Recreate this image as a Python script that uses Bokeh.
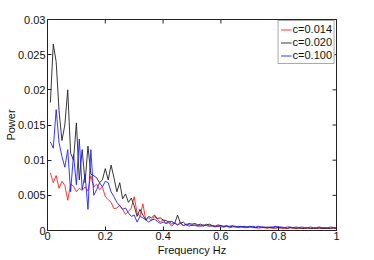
import math
from bokeh.plotting import figure
from bokeh.models import Range1d, FixedTicker, Legend, LegendItem
from bokeh.embed import file_html
from bokeh.resources import INLINE

# ---- data ----
freq = [round(0.01 * i, 2) for i in range(1, 101)]

power_c014 = [
    0.0082, 0.0068, 0.0078, 0.0060, 0.0070, 0.0064, 0.0043, 0.0066, 0.0063, 0.0055,
    0.0060, 0.0057, 0.0062, 0.0056, 0.0078, 0.0062, 0.0066, 0.0058, 0.0062, 0.0048,
    0.0044, 0.0040, 0.0031, 0.0032, 0.0036, 0.0030, 0.0023, 0.0027, 0.0032, 0.0048,
    0.0025, 0.0020, 0.0038, 0.0015, 0.0018, 0.0014, 0.0020, 0.0016, 0.0012, 0.0015,
    0.0010, 0.0011, 0.0006, 0.0010, 0.0008, 0.0012, 0.0007, 0.0008, 0.0006, 0.0008,
    0.0007, 0.0006, 0.0007, 0.0006, 0.0009, 0.0007, 0.0006, 0.0005, 0.0006, 0.0005,
    0.0005, 0.0006, 0.0004, 0.0005, 0.0005, 0.0004, 0.0005, 0.0004, 0.0004, 0.0005,
    0.0004, 0.0004, 0.0003, 0.0004, 0.0004, 0.0003, 0.0004, 0.0003, 0.0003, 0.0004,
    0.0003, 0.0003, 0.0003, 0.0004, 0.0003, 0.0003, 0.0003, 0.0003, 0.0003, 0.0003,
    0.0003, 0.0003, 0.0003, 0.0003, 0.0003, 0.0003, 0.0003, 0.0003, 0.0003, 0.0003,
]

power_c020 = [
    0.0182, 0.0265, 0.0240, 0.0170, 0.0128, 0.0150, 0.0200, 0.0110, 0.0100, 0.0153,
    0.0072, 0.0115, 0.0068, 0.0120, 0.0080, 0.0078, 0.0075, 0.0068, 0.0072, 0.0088,
    0.0072, 0.0093, 0.0075, 0.0055, 0.0068, 0.0045, 0.0052, 0.0040, 0.0046, 0.0035,
    0.0020, 0.0030, 0.0022, 0.0015, 0.0020, 0.0018, 0.0022, 0.0017, 0.0018, 0.0015,
    0.0014, 0.0012, 0.0013, 0.0010, 0.0022, 0.0010, 0.0012, 0.0008, 0.0010, 0.0009,
    0.0010, 0.0008, 0.0009, 0.0007, 0.0008, 0.0009, 0.0007, 0.0006, 0.0008, 0.0007,
    0.0006, 0.0007, 0.0005, 0.0006, 0.0006, 0.0005, 0.0006, 0.0005, 0.0005, 0.0006,
    0.0005, 0.0004, 0.0005, 0.0005, 0.0004, 0.0005, 0.0004, 0.0004, 0.0005, 0.0004,
    0.0004, 0.0004, 0.0003, 0.0004, 0.0004, 0.0003, 0.0004, 0.0003, 0.0003, 0.0004,
    0.0003, 0.0003, 0.0003, 0.0004, 0.0003, 0.0003, 0.0003, 0.0003, 0.0004, 0.0003,
]

power_c100 = [
    0.0126, 0.0117, 0.0172, 0.0125, 0.0105, 0.0090, 0.0115, 0.0055, 0.0108, 0.0065,
    0.0130, 0.0058, 0.0080, 0.0030, 0.0115, 0.0050, 0.0058, 0.0068, 0.0062, 0.0070,
    0.0068, 0.0055, 0.0048, 0.0040, 0.0035, 0.0030, 0.0032, 0.0025, 0.0020, 0.0022,
    0.0012, 0.0020, 0.0018, 0.0015, 0.0012, 0.0015, 0.0016, 0.0013, 0.0010, 0.0012,
    0.0010, 0.0013, 0.0009, 0.0011, 0.0008, 0.0010, 0.0007, 0.0009, 0.0008, 0.0007,
    0.0008, 0.0007, 0.0006, 0.0008, 0.0007, 0.0006, 0.0007, 0.0006, 0.0006, 0.0007,
    0.0005, 0.0006, 0.0006, 0.0007, 0.0005, 0.0006, 0.0005, 0.0006, 0.0005, 0.0005,
    0.0006, 0.0005, 0.0006, 0.0005, 0.0005, 0.0004, 0.0005, 0.0005, 0.0006, 0.0005,
    0.0005, 0.0004, 0.0005, 0.0005, 0.0004, 0.0005, 0.0004, 0.0005, 0.0004, 0.0004,
    0.0005, 0.0004, 0.0004, 0.0005, 0.0004, 0.0004, 0.0004, 0.0005, 0.0004, 0.0004,
]

series_labels = ["c=0.014", "c=0.020", "c=0.100"]
series_colors = ["#ff2020", "#202020", "#2020ff"]

x_ticks = [0, 0.2, 0.4, 0.6, 0.8, 1.0]
x_tick_labels = ["0", "0.2", "0.4", "0.6", "0.8", "1"]
y_ticks = [0, 0.005, 0.01, 0.015, 0.02, 0.025, 0.03]
y_tick_labels = ["0", "0.005", "0.01", "0.015", "0.02", "0.025", "0.03"]

X_MAX = 1.0
Y_MAX = 0.03

FONT = "Liberation Sans"

p = figure(frame_width=289, frame_height=211, output_backend="svg", toolbar_location=None,
           x_range=Range1d(0, X_MAX), y_range=Range1d(0, Y_MAX),
           min_border_left=47, min_border_right=26, min_border_top=19, min_border_bottom=10,
           x_axis_label="Frequency Hz", y_axis_label="Power")
p.grid.visible = False
p.outline_line_color = "#222222"
p.outline_line_width = 1
p.background_fill_color = "white"
p.border_fill_color = "white"

renderers = []
for vals, col in zip([power_c014, power_c020, power_c100], series_colors):
    r = p.line(freq, vals, line_color=col, line_width=0.9)
    renderers.append(r)

# axes styling
for ax, ticks, labels in [(p.xaxis[0], x_ticks, x_tick_labels), (p.yaxis[0], y_ticks, y_tick_labels)]:
    ax.ticker = FixedTicker(ticks=ticks)
    ax.major_label_overrides = {t: l for t, l in zip(ticks, labels)}
    ax.minor_tick_line_color = None
    ax.major_tick_in = 4
    ax.major_tick_out = 0
    ax.axis_line_color = "#222222"
    ax.major_tick_line_color = "#222222"
    ax.major_label_text_font = FONT
    ax.major_label_text_font_size = "11px"
    ax.major_label_text_color = "#111111"
    ax.axis_label_text_font = FONT
    ax.axis_label_text_font_size = "11px"
    ax.axis_label_text_font_style = "normal"
    ax.axis_label_text_color = "#111111"
    ax.major_label_standoff = 2

p.xaxis[0].major_label_standoff = 1
p.xaxis[0].axis_label_standoff = 1
p.yaxis[0].axis_label_standoff = -2

# mirrored inward ticks on the top and right edges (half of each dash is clipped by the frame)
p.scatter(x_ticks, [Y_MAX] * len(x_ticks), marker="dash", angle=math.pi / 2, size=8,
          line_color="#222222", line_width=1)
p.scatter([X_MAX] * len(y_ticks), y_ticks, marker="dash", size=8,
          line_color="#222222", line_width=1)

legend = Legend(items=[LegendItem(label=lab, renderers=[r]) for lab, r in zip(series_labels, renderers)],
                location="top_right")
legend.label_text_font = FONT
legend.label_text_font_size = "11px"
legend.label_text_color = "#111111"
legend.label_standoff = 1
legend.label_height = 11
legend.glyph_width = 11
legend.glyph_height = 11
legend.spacing = 1
legend.padding = 2
legend.margin = 1
legend.border_line_color = "#555555"
legend.border_line_width = 1
legend.background_fill_alpha = 1
p.add_layout(legend)

open("out.html", "w").write(file_html(p, INLINE))
